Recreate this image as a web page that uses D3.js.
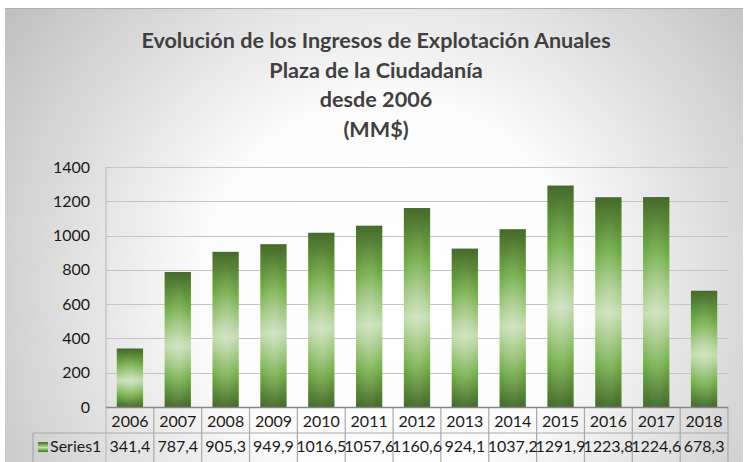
<!DOCTYPE html>
<html>
<head>
<meta charset="utf-8">
<script src="https://cdn.jsdelivr.net/npm/d3@7"></script>
<style>
  body { margin: 0; background: #fff; }
  svg { display: block; font-family: Lato, "Open Sans", sans-serif; }
</style>
</head>
<body>
<div id="chart"></div>
<script>
// --------------------------------------
//  Data
// --------------------------------------
const years = ["2006", "2007", "2008", "2009", "2010", "2011", "2012", "2013", "2014", "2015", "2016", "2017", "2018"];
const values = [341.4, 787.4, 905.3, 949.9, 1016.5, 1057.6, 1160.6, 924.1, 1037.2, 1291.9, 1223.8, 1224.6, 678.3];
const yTicks = [0, 200, 400, 600, 800, 1000, 1200, 1400];
const titleLines = ["Evolución de los Ingresos de Explotación Anuales", "Plaza de la Ciudadanía", "desde 2006", "(MM$)"];
const seriesName = "Series1";

// --------------------------------------
//  Canvas
// --------------------------------------
const W = 746, H = 462;
const plot = { left: 106, right: 728, top: 167, bottom: 407 };
const tableRow1 = 433, tableLeft = 33;

const svg = d3.select("#chart").append("svg")
  .attr("width", W).attr("height", H);

const defs = svg.append("defs");

const bg = defs.append("radialGradient")
  .attr("id", "bg").attr("gradientUnits", "userSpaceOnUse")
  .attr("cx", 390).attr("cy", 290).attr("r", 470);
bg.append("stop").attr("offset", 0).attr("stop-color", "#ffffff");
bg.append("stop").attr("offset", 0.4).attr("stop-color", "#fcfcfc");
bg.append("stop").attr("offset", 1).attr("stop-color", "#c0c0c0");

const barGrad = defs.append("linearGradient")
  .attr("id", "bar").attr("x1", 0).attr("y1", 0).attr("x2", 0).attr("y2", 1);
[[0, "#456a2b"], [0.27, "#72ae47"], [0.55, "#c4ddb2"], [0.8, "#72ae47"], [1, "#466b2c"]]
  .forEach(([o, c]) => barGrad.append("stop").attr("offset", o).attr("stop-color", c));

const glow = defs.append("radialGradient")
  .attr("id", "glow").attr("cx", 0.5).attr("cy", 0.55).attr("r", 0.5);
glow.append("stop").attr("offset", 0).attr("stop-color", "#ffffff").attr("stop-opacity", 0.25);
glow.append("stop").attr("offset", 1).attr("stop-color", "#ffffff").attr("stop-opacity", 0);

svg.append("rect")
  .attr("x", 5).attr("y", 8).attr("width", W - 8).attr("height", H - 8)
  .attr("fill", "url(#bg)");
svg.append("line")
  .attr("x1", 5).attr("x2", W - 3).attr("y1", 8.5).attr("y2", 8.5)
  .attr("stroke", "#b0b0b0");

// --------------------------------------
//  Title
// --------------------------------------
svg.append("g").selectAll("text")
  .data(titleLines)
  .join("text")
  .attr("x", 376)
  .attr("y", (d, i) => 48 + i * 29.5)
  .attr("text-anchor", "middle")
  .attr("font-size", 21.6)
  .attr("font-weight", 700)
  .attr("fill", "#404040")
  .text(d => d);

// --------------------------------------
//  Scales
// --------------------------------------
const x = d3.scaleBand()
  .domain(years)
  .range([plot.left, plot.right])
  .paddingInner(0.45)
  .paddingOuter(0.225);

const y = d3.scaleLinear()
  .domain([0, 1400])
  .range([plot.bottom, plot.top]);

// gridlines
svg.append("g").selectAll("line")
  .data(yTicks.filter(d => d > 0))
  .join("line")
  .attr("x1", plot.left).attr("x2", plot.right)
  .attr("y1", d => Math.round(y(d)) + 0.5).attr("y2", d => Math.round(y(d)) + 0.5)
  .attr("stroke", "#c4c4c4").attr("stroke-width", 1.2);

// y labels
svg.append("g").selectAll("text")
  .data(yTicks)
  .join("text")
  .attr("x", 90)
  .attr("y", d => y(d))
  .attr("dy", "0.35em")
  .attr("text-anchor", "end")
  .attr("font-size", 16)
  .attr("fill", "#1a1a1a")
  .text(d => d);

// --------------------------------------
//  Bars
// --------------------------------------
const bars = svg.append("g").selectAll("g")
  .data(values)
  .join("g");

bars.append("rect")
  .attr("x", (d, i) => x(years[i]))
  .attr("y", d => y(d))
  .attr("width", x.bandwidth())
  .attr("height", d => y(0) - y(d))
  .attr("fill", "url(#bar)");

bars.append("rect")
  .attr("x", (d, i) => x(years[i]))
  .attr("y", d => y(d))
  .attr("width", x.bandwidth())
  .attr("height", d => y(0) - y(d))
  .attr("fill", "url(#glow)");

// --------------------------------------
//  Data table
// --------------------------------------
const step = x.step();
const colEdge = i => plot.left + i * step;
const table = svg.append("g").attr("stroke", "#a9a9a9").attr("stroke-width", 1.2);

// vertical cell borders
table.selectAll("line.v")
  .data(d3.range(years.length + 1))
  .join("line")
  .attr("class", "v")
  .attr("x1", i => colEdge(i)).attr("x2", i => colEdge(i))
  .attr("y1", i => i === 0 ? plot.top : plot.bottom).attr("y2", H)
  .attr("stroke", i => i === 0 ? "#bdbdbd" : "#a9a9a9");

table.append("line")
  .attr("x1", tableLeft).attr("x2", plot.right)
  .attr("y1", tableRow1).attr("y2", tableRow1);
table.append("line")
  .attr("x1", tableLeft).attr("x2", tableLeft)
  .attr("y1", tableRow1).attr("y2", H);

// x axis line
svg.append("line")
  .attr("x1", plot.left).attr("x2", plot.right)
  .attr("y1", plot.bottom + 0.5).attr("y2", plot.bottom + 0.5)
  .attr("stroke", "#868686").attr("stroke-width", 1.5);

svg.append("g").selectAll("text")
  .data(years)
  .join("text")
  .attr("x", d => x(d) + x.bandwidth() / 2)
  .attr("y", (plot.bottom + tableRow1) / 2 + 1)
  .attr("dy", "0.35em")
  .attr("text-anchor", "middle")
  .attr("font-size", 16)
  .attr("fill", "#1a1a1a")
  .text(d => d);

svg.append("g").selectAll("text")
  .data(values)
  .join("text")
  .attr("x", (d, i) => x(years[i]) + x.bandwidth() / 2)
  .attr("y", (tableRow1 + H) / 2 - 1)
  .attr("dy", "0.35em")
  .attr("text-anchor", "middle")
  .attr("font-size", 16)
  .attr("fill", "#1a1a1a")
  .text(d => d.toFixed(1).replace(".", ","));

// legend key
svg.append("rect")
  .attr("x", 38).attr("y", 442).attr("width", 10).attr("height", 10)
  .attr("fill", "url(#bar)");
svg.append("text")
  .attr("x", 50).attr("y", (tableRow1 + H) / 2 - 1)
  .attr("dy", "0.35em")
  .attr("font-size", 16)
  .attr("fill", "#1a1a1a")
  .text(seriesName);
</script>
</body>
</html>
